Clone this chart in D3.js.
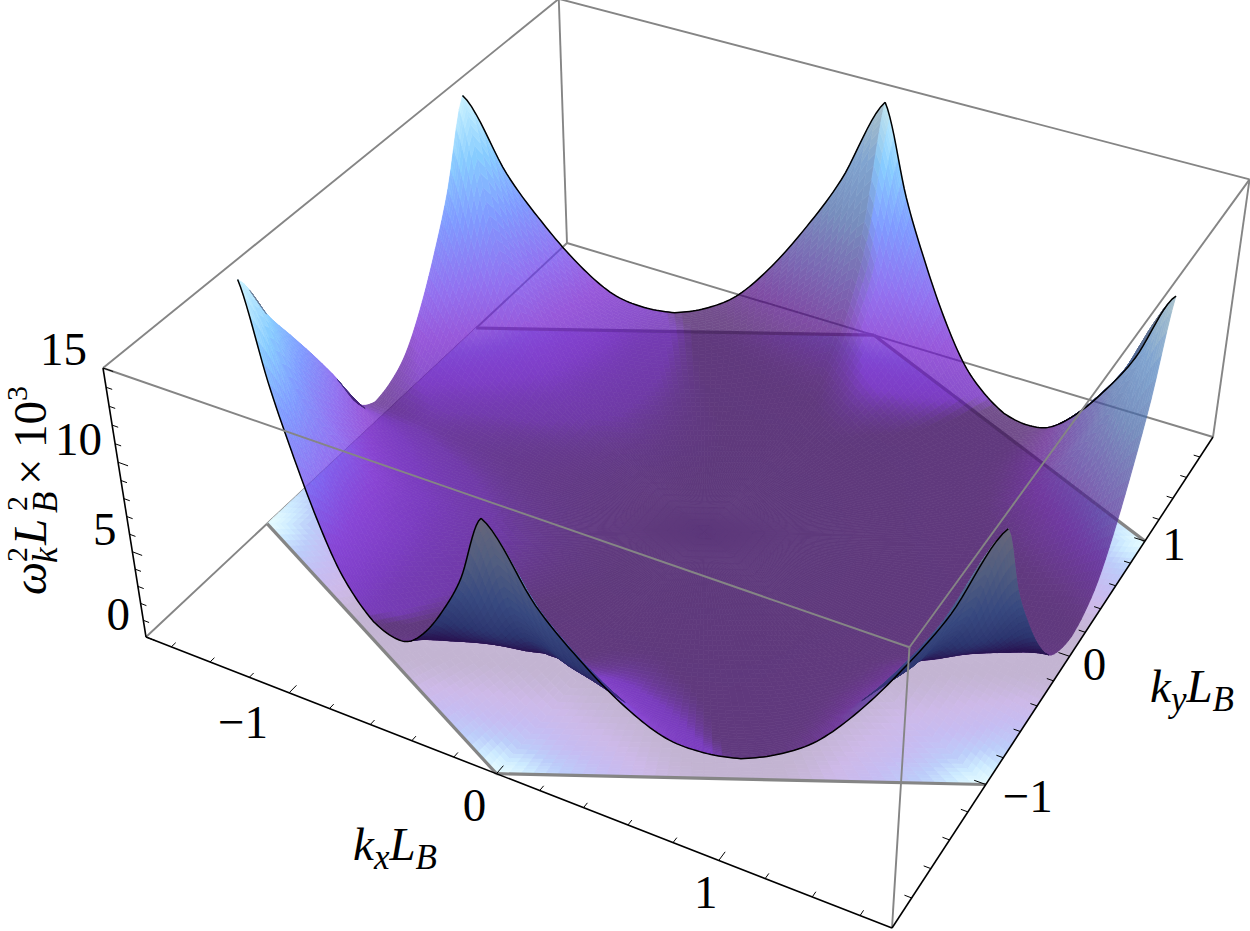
<!DOCTYPE html>
<html>
<head>
<meta charset="utf-8">
<script src="https://cdn.jsdelivr.net/npm/d3@7"></script>
<style>
  html, body { margin: 0; padding: 0; background: white; }
  text { font-family: "Liberation Serif", serif; fill: black; }
  .var { font-style: italic; }
</style>
</head>
<body>
<div id="chart"></div>
<script>
const width = 1250, height = 931;

// axis ticks
const kxTicks = d3.range(-1.6, 1.61, 0.2).map(v => +v.toFixed(1));
const kyTicks = d3.range(-1.8, 1.81, 0.2).map(v => +v.toFixed(1));
const zTicks = d3.range(0, 16, 1);
const kxLabels = [-1, 0, 1];
const kyLabels = [-1, 0, 1];
const zLabels = [0, 5, 10, 15];

// box and hexagon
const kxRange = [-1.732, 1.732];
const kyRange = [-2, 2];
const zRange = [0, 15];
const hexRadius = 2;

// surface heights, on rays from centre to the hexagon edge.
// one row per ray angle, measured from the edge midpoint (0) to the corner (30 deg)
const zRay0  = [0, 0.01, 0.05, 0.11, 0.19, 0.30, 0.43, 0.59, 0.77, 0.97, 1.2];
const zRay5  = [0, 0.01, 0.05, 0.11, 0.19, 0.30, 0.45, 0.63, 0.85, 1.13, 1.5];
const zRay10 = [0, 0.01, 0.05, 0.11, 0.20, 0.33, 0.50, 0.73, 1.07, 1.57, 2.3];
const zRay15 = [0, 0.01, 0.05, 0.12, 0.22, 0.36, 0.59, 0.95, 1.54, 2.48, 4.0];
const zRay20 = [0, 0.01, 0.06, 0.13, 0.24, 0.42, 0.73, 1.26, 2.19, 3.78, 6.4];
const zRay25 = [0, 0.01, 0.06, 0.14, 0.26, 0.50, 0.91, 1.67, 3.04, 5.45, 9.5];
const zRay30 = [0, 0.02, 0.06, 0.15, 0.31, 0.60, 1.16, 2.24, 4.27, 7.88, 14];
const zRays = [zRay0, zRay5, zRay10, zRay15, zRay20, zRay25, zRay30];
// the side from the left midpoint to the lower left corner stands higher at the rim
const zLeftRim = [0, 0.5, 2.1, 2.6, 2.35, 1.5, 0];

// colour stops: lit side, dull side, underside and the shadow on the floor
const colourZ = [0, 1.5, 3, 5, 8, 11, 14];
const litColours = ["#460a82", "#5f0fb9", "#7019cd", "#693ceb", "#5073ff", "#5ab9ff", "#b9f0ff"];
const dullColours = ["#380a5a", "#3c0a5f", "#4e0882", "#482d96", "#4464a5", "#5082be", "#89acba"];
const underColours = ["#190041", "#190041", "#190546", "#1c2864", "#2a3f78", "#465578", "#5f6070"];
const floorColours = ["#c5b6d4", "#c3b4d2", "#cdb9e8", "#c6bcf2", "#bccdfa", "#cdebff", "#e8fdff"];

const colourScale = range => d3.scaleLinear().domain(colourZ).range(range).interpolate(d3.interpolateRgb).clamp(true);
const litFill = colourScale(litColours);
const dullFill = colourScale(dullColours);
const underFill = colourScale(underColours);
const floorFill = colourScale(floorColours);

const xUnit = d3.scaleLinear().domain(kxRange).range([0, 1]);
const yUnit = d3.scaleLinear().domain(kyRange).range([0, 1]);
const zUnit = d3.scaleLinear().domain(zRange).range([0, 1]);

// camera matrix fitted to the box corners
const cam = [
    [644.30, 540.89, -50.47, 146],
    [185.20, -342.62, -295.68, 637],
    [-0.11401, 0.21145, -0.0725, 1]
];

function depth(p) {
    const a = xUnit(p[0]), b = yUnit(p[1]), c = zUnit(p[2]);
    return cam[2][0] * a + cam[2][1] * b + cam[2][2] * c + cam[2][3];
}

function project(p) {
    const a = xUnit(p[0]), b = yUnit(p[1]), c = zUnit(p[2]);
    const w = depth(p);
    return [
        (cam[0][0] * a + cam[0][1] * b + cam[0][2] * c + cam[0][3]) / w,
        (cam[1][0] * a + cam[1][1] * b + cam[1][2] * c + cam[1][3]) / w
    ];
}

const line3 = d3.line().x(d => project(d)[0]).y(d => project(d)[1]);

function catmull(values, t) {
    const n = values.length - 1;
    const s = Math.min(t * n, n - 1e-9);
    const i = Math.floor(s), f = s - i;
    const p0 = values[Math.max(i - 1, 0)], p1 = values[i], p2 = values[i + 1], p3 = values[Math.min(i + 2, n)];
    return 0.5 * ((2 * p1) + (-p0 + p2) * f + (2 * p0 - 5 * p1 + 4 * p2 - p3) * f * f + (-p0 + 3 * p1 - 3 * p2 + p3) * f * f * f);
}

// height at a fold angle (deg) and a fraction of the way to the edge
function surfaceHeight(theta, ring) {
    const column = zRays.map(row => catmull(row, ring));
    return catmull(column, theta / 30);
}

function heightAt(phi, ring) {
    const wrapped = ((phi % 360) + 360) % 360;
    const deg = wrapped % 60;
    const theta = deg > 30 ? 60 - deg : deg;
    let z = surfaceHeight(theta, ring);
    if (wrapped > 180 && wrapped < 210) z += catmull(zLeftRim, theta / 30) * Math.pow(ring, 10);
    return z;
}

function hexPoint(phi, ring) {
    const deg = ((phi % 60) + 60) % 60;
    const theta = deg > 30 ? 60 - deg : deg;
    const edge = hexRadius * Math.sqrt(3) / 2 / Math.cos(theta * Math.PI / 180);
    const r = edge * ring;
    const rad = phi * Math.PI / 180;
    return { kx: r * Math.cos(rad), ky: r * Math.sin(rad), z: heightAt(phi, ring) };
}

// height at a place in the plane, used for a broad slope estimate
function heightXY(kx, ky) {
    const phi = Math.atan2(ky, kx) * 180 / Math.PI;
    const wrapped = (phi + 360) % 360;
    const deg = wrapped % 60;
    const theta = deg > 30 ? 60 - deg : deg;
    const edge = hexRadius * Math.sqrt(3) / 2 / Math.cos(theta * Math.PI / 180);
    return heightAt(wrapped, Math.min(Math.hypot(kx, ky) / edge, 1));
}

// rays evenly spaced along each hexagon side, rings closer together towards the edge
function buildMesh(foldSteps, ringSteps) {
    const tan30 = Math.tan(Math.PI / 6);
    const phis = [];
    for (let fold = 0; fold < 12; fold++) {
        for (let s = 0; s < foldSteps; s++) {
            const u = s / foldSteps;
            const t = Math.atan(u * tan30) * 180 / Math.PI;
            phis.push(fold % 2 === 0 ? fold * 30 + t : (fold + 1) * 30 - Math.atan((1 - u) * tan30) * 180 / Math.PI);
        }
    }
    phis.push(360);
    const ring = i => 1 - Math.pow(1 - i / ringSteps, 1.6);
    const mesh = [];
    for (let j = 0; j < phis.length - 1; j++) {
        for (let i = 0; i < ringSteps; i++) {
            mesh.push([hexPoint(phis[j], ring(i)), hexPoint(phis[j + 1], ring(i)),
                       hexPoint(phis[j + 1], ring(i + 1)), hexPoint(phis[j], ring(i + 1))]);
        }
    }
    return mesh;
}

const surfaceCells = buildMesh(26, 56);
const floorCells = buildMesh(20, 36);

const smooth = d3.scaleLinear().domain([0.02, 0.2]).range([0, 1]).clamp(true);
const centre = q => [d3.mean(q, v => v.kx), d3.mean(q, v => v.ky), d3.mean(q, v => v.z)];

function isUnder(q) {
    // screen y points down, so positive area here is the underside
    return d3.polygonArea(q.map(v => project([v.kx, v.ky, v.z]))) > 0;
}

function shade(q) {
    const [kx, ky, meanZ] = centre(q);
    if (isUnder(q)) return underFill(meanZ);
    // slope over a wide step, the box is about half as tall as it is wide
    const step = 0.25;
    const slope = (heightXY(kx - step, ky) - heightXY(kx + step, ky)) / (2 * step) * 2 / 15;
    const nx = slope / Math.hypot(slope, 1);
    return d3.interpolateRgb(dullFill(meanZ), litFill(meanZ))(smooth(nx));
}

const svg = d3.select("#chart").append("svg")
    .attr("width", width)
    .attr("height", height)
    .attr("viewBox", [0, 0, width, height])
    .style("display", "block");

const [x0, x1] = kxRange, [y0, y1] = kyRange, [z0, z1] = zRange;

function boxLines(layer, edges, colour, w) {
    layer.selectAll("path")
        .data(edges)
        .join("path")
        .attr("d", d => line3(d))
        .attr("fill", "none")
        .attr("stroke", colour)
        .attr("stroke-width", w);
}

// edges that sit behind the surface
boxLines(svg.append("g"), [
    [[x0, y0, z0], [x0, y1, z0]],
    [[x0, y1, z0], [x1, y1, z0]],
    [[x0, y1, z0], [x0, y1, z1]],
    [[x0, y0, z1], [x0, y1, z1]],
    [[x0, y1, z1], [x1, y1, z1]],
    [[x1, y1, z1], [x1, y1, z0]]
], "#858585", 1.9);

// floor shadow
const cellPath = q => d3.line()(q.map(v => project([v.kx, v.ky, v.z])));
const floorPath = q => d3.line()(q.map(v => project([v.kx, v.ky, 0])));

svg.append("g").selectAll("path")
    .data(floorCells)
    .join("path")
    .attr("d", d => floorPath(d) + "Z")
    .attr("fill", d => floorFill(d3.mean(d, v => v.z)))
    .attr("stroke", d => floorFill(d3.mean(d, v => v.z)))
    .attr("stroke-width", 0.8);

// four of the six hexagon sides carry a heavy line on the floor and a black rim above
const rimSides = [[90, 150], [210, 270], [270, 330], [30, 90]];
const cornerOf = a => [hexRadius * Math.cos(a * Math.PI / 180), hexRadius * Math.sin(a * Math.PI / 180), 0];
boxLines(svg.append("g"), rimSides.map(([a, b]) => [cornerOf(a), cornerOf(b)]), "#858585", 3.2);

// surface, painted back to front
const sorted = surfaceCells
    .map(q => ({ q, w: depth(centre(q)) }))
    .sort((p, q) => q.w - p.w);

svg.append("g")
    .attr("opacity", 0.72)
    .selectAll("path")
    .data(sorted)
    .join("path")
    .attr("d", d => cellPath(d.q) + "Z")
    .each(function (d) {
        const fill = shade(d.q);
        d3.select(this).attr("fill", fill).attr("stroke", fill).attr("stroke-width", 0.6);
    });

// undersides read darker than the see-through top
svg.append("g")
    .attr("opacity", 0.65)
    .selectAll("path")
    .data(sorted.filter(d => isUnder(d.q)))
    .join("path")
    .attr("d", d => cellPath(d.q) + "Z")
    .each(function (d) {
        const fill = shade(d.q);
        d3.select(this).attr("fill", fill).attr("stroke", fill).attr("stroke-width", 0.6);
    });

const outline = rimSides.map(([a, b]) =>
    d3.range(0, 121).map(i => {
        const v = hexPoint(a + (b - a) * i / 120, 1);
        return [v.kx, v.ky, v.z];
    }));
boxLines(svg.append("g"), outline, "black", 1.5);

// edges in front of the surface
boxLines(svg.append("g"), [
    [[x0, y0, z1], [x1, y0, z1]],
    [[x1, y0, z1], [x1, y1, z1]],
    [[x1, y0, z1], [x1, y0, z0]]
], "#858585", 1.9);

// black axes
boxLines(svg.append("g"), [
    [[x0, y0, z0], [x1, y0, z0]],
    [[x1, y0, z0], [x1, y1, z0]],
    [[x0, y0, z0], [x0, y0, z1]]
], "black", 1.6);

const tickGroup = svg.append("g").attr("stroke", "black").attr("fill", "none");
const isMajor = v => Math.abs(v - Math.round(v)) < 1e-6;
tickGroup.selectAll(".kx").data(kxTicks).join("path").attr("class", "kx")
    .attr("stroke-width", 1)
    .attr("d", v => line3([[v, y0, z0], [v, y0 + (isMajor(v) ? 0.06 : 0.035), z0]]));
tickGroup.selectAll(".ky").data(kyTicks).join("path").attr("class", "ky")
    .attr("stroke-width", 1)
    .attr("d", v => line3([[x1, v, z0], [x1 - (isMajor(v) ? 0.05 : 0.03), v, z0]]));
tickGroup.selectAll(".kz").data(zTicks).join("path").attr("class", "kz")
    .attr("stroke-width", 1)
    .attr("d", v => line3([[x0, y0, v], [x0 + (v % 5 === 0 ? 0.05 : 0.03), y0, v]]));

// tick labels
const fontSize = 47, subSize = 35, supSize = 30;
const minus = v => v < 0 ? "\u2212" + Math.abs(v) : String(v);
function tickLabels(cls, values, at, dx, dy, anchor) {
    svg.append("g").selectAll("text")
        .data(values)
        .join("text")
        .attr("class", cls)
        .attr("x", v => project(at(v))[0] + dx(v))
        .attr("y", v => project(at(v))[1] + dy(v))
        .attr("text-anchor", anchor)
        .attr("font-size", fontSize)
        .text(minus);
}
tickLabels("kx-label", kxLabels, v => [v, y0, z0], v => v < 0 ? -46 : (v === 0 ? -22 : -13), v => v < 0 ? 45 : (v === 0 ? 47 : 48), "middle");
tickLabels("ky-label", kyLabels, v => [x1, v, z0], v => v < 0 ? 42 : (v === 0 ? 25 : 29), v => v < 0 ? 27 : (v === 0 ? 24 : 19), "middle");
tickLabels("z-label", zLabels, v => [x0, y0, v], () => -16 , v => v === 15 ? -3 : -7, "end");

// sub and superscripted axis titles
function kLabel(x, y, sub) {
    const t = svg.append("text").attr("x", x).attr("y", y).attr("font-size", fontSize).attr("class", "var");
    t.append("tspan").text("k");
    t.append("tspan").attr("font-size", subSize).attr("dy", 9).text(sub);
    t.append("tspan").attr("dy", -9).text("L");
    t.append("tspan").attr("font-size", subSize).attr("dy", 9).text("B");
}
kLabel(353, 860, "x");
kLabel(1150, 702, "y");

const zTitle = svg.append("g").attr("transform", "translate(46,595) rotate(-90)");
const zPiece = (x, y, size, cls, s) => zTitle.append("text")
    .attr("x", x).attr("y", y).attr("font-size", size).attr("class", cls).text(s);
zPiece(0, 0, fontSize, "var", "\u03c9");
zPiece(32, 11, subSize, "var", "k");
zPiece(33, -19, supSize, "", "2");
zPiece(50, 0, fontSize, "var", "L");
zPiece(82, 11, subSize, "var", "B");
zPiece(84, -19, supSize, "", "2");
zPiece(110, 0, fontSize, "", "\u00d7");
zPiece(147, 0, fontSize, "", "10");
zPiece(194, -19, supSize, "", "3");
</script>
</body>
</html>
